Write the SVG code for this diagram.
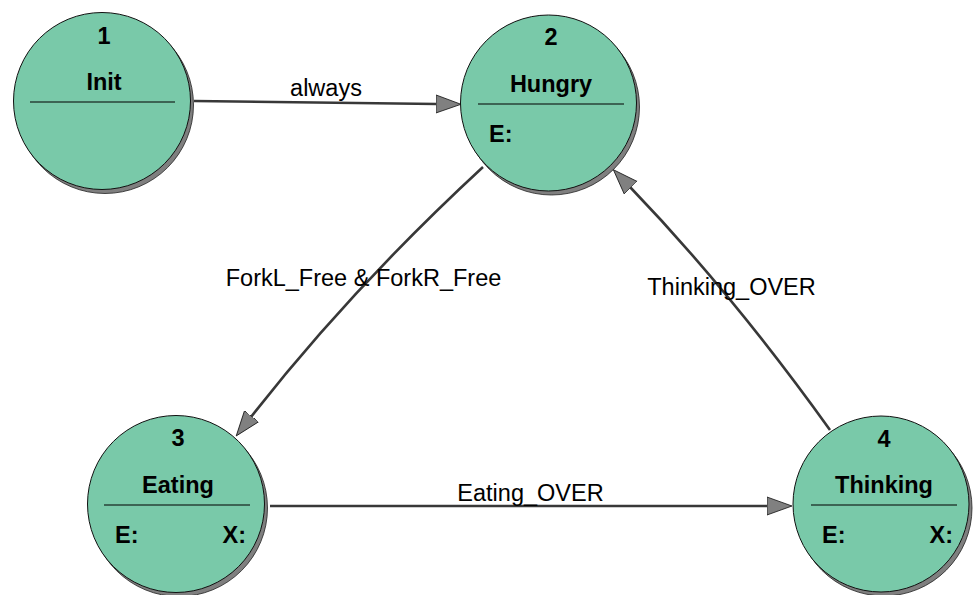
<svg xmlns="http://www.w3.org/2000/svg" width="973" height="595" viewBox="0 0 973 595">
<defs>
<style>
.shadow{fill:#7f7f7f;stroke:#222;stroke-width:0.8}
.state{fill:#79C9A9;stroke:#111;stroke-width:1}
.div{stroke:#000;stroke-width:1.2}
.num,.name,.act{font-family:"Liberation Sans",Arial,sans-serif;font-weight:bold;font-size:23.5px;fill:#000}
.num,.name{text-anchor:middle}
.lbl{font-family:"Liberation Sans",Arial,sans-serif;font-size:23.5px;fill:#000;text-anchor:middle}
.edge{fill:none;stroke:#383838;stroke-width:2.6;marker-end:url(#arr)}
</style>
<marker id="arr" markerUnits="userSpaceOnUse" markerWidth="30" markerHeight="24" refX="1" refY="10" orient="auto" viewBox="0 0 30 20">
<path d="M0,1 L25,10 L0,19 Z" fill="#808080" stroke="#111" stroke-width="0.8"/>
</marker>
</defs>
<rect width="973" height="595" fill="#fff"/>

<g id="node1">
<circle class="shadow" cx="105" cy="105" r="88.5"/>
<circle class="state" cx="102" cy="101" r="88.5"/>
<line class="div" x1="30" y1="102" x2="175" y2="102"/>
<text class="num" x="104" y="44">1</text>
<text class="name" x="104" y="90">Init</text>
</g>

<g id="node2">
<circle class="shadow" cx="551.5" cy="107" r="88"/>
<circle class="state" cx="548.5" cy="103" r="88"/>
<line class="div" x1="478" y1="104" x2="624" y2="104"/>
<text class="num" x="551" y="45">2</text>
<text class="name" x="551" y="92">Hungry</text>
<text class="act" x="489" y="142">E:</text>
</g>

<g id="node3">
<circle class="shadow" cx="179" cy="508" r="88.5"/>
<circle class="state" cx="176" cy="504" r="88.5"/>
<line class="div" x1="104" y1="505" x2="250" y2="505"/>
<text class="num" x="178" y="446">3</text>
<text class="name" x="178" y="493">Eating</text>
<text class="act" x="115" y="543">E:</text>
<text class="act" x="246" y="543" text-anchor="end">X:</text>
</g>

<g id="node4">
<circle class="shadow" cx="884" cy="508" r="88"/>
<circle class="state" cx="881" cy="504" r="88"/>
<line class="div" x1="811" y1="505" x2="957" y2="505"/>
<text class="num" x="884" y="447">4</text>
<text class="name" x="884" y="493">Thinking</text>
<text class="act" x="822" y="543">E:</text>
<text class="act" x="953" y="543" text-anchor="end">X:</text>
</g>

<g id="connectors">
<path class="edge" d="M194,101 L437,104"/>
<text class="lbl" x="326" y="96">always</text>
<path class="edge" d="M483,167 Q350,290 251,417"/>
<text class="lbl" x="363.5" y="285.5">ForkL_Free &amp; ForkR_Free</text>
<path class="edge" d="M270,506 L768,506"/>
<text class="lbl" x="530.5" y="501">Eating_OVER</text>
<path class="edge" d="M830,430 Q731,292 630,187"/>
<text class="lbl" x="731.5" y="295">Thinking_OVER</text>
</g>
</svg>
